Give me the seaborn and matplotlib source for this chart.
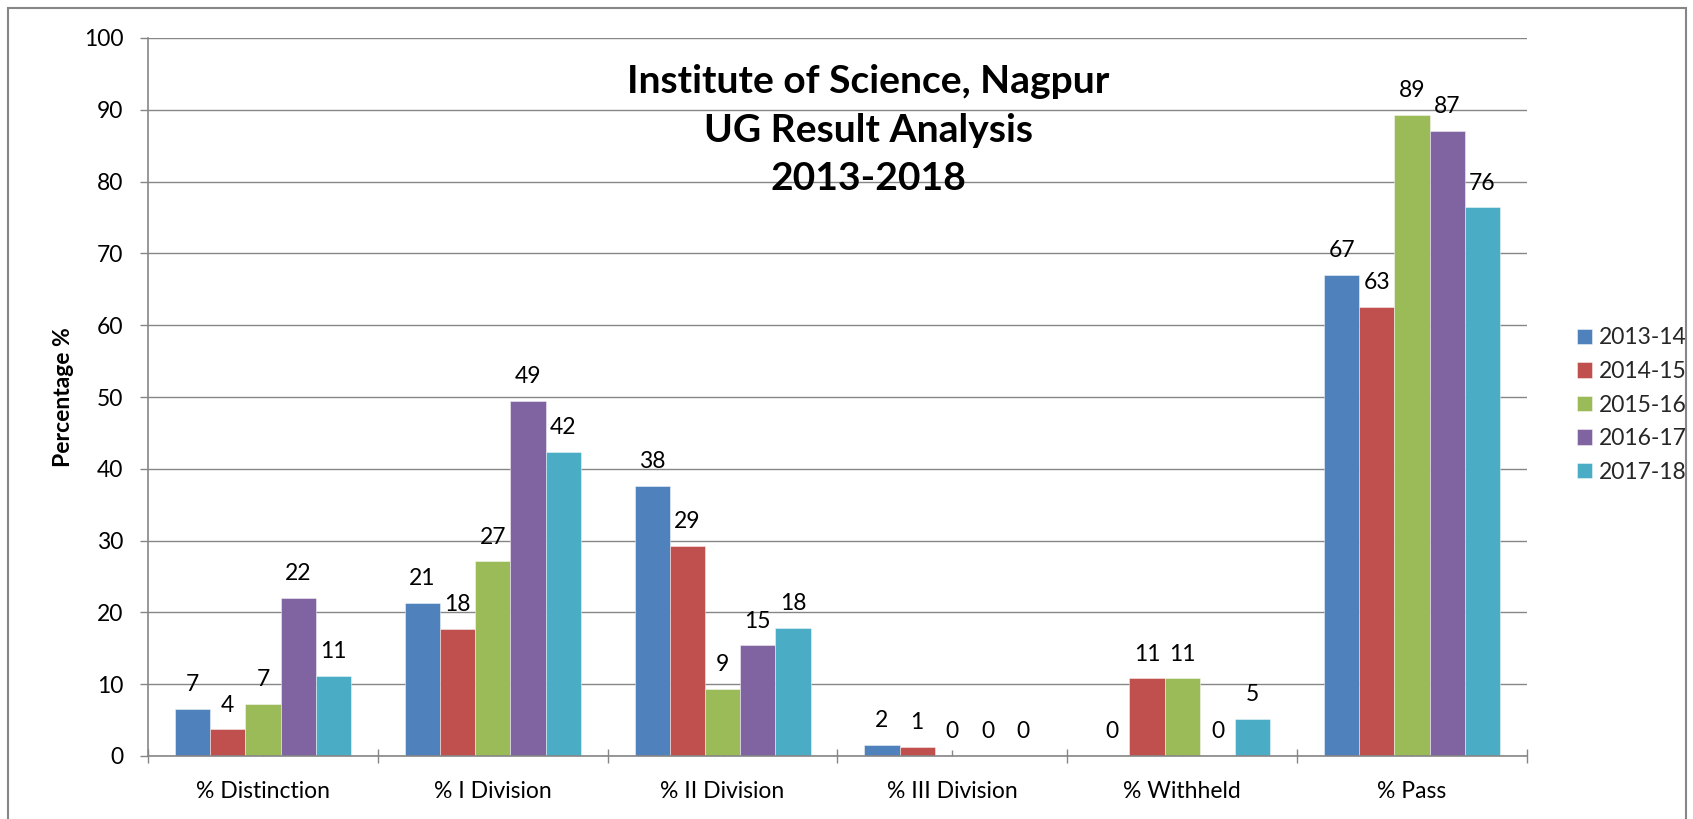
import numpy as np
import pandas as pd
import matplotlib
matplotlib.use("Agg")
import matplotlib.pyplot as plt
import seaborn as sns
from matplotlib.patches import Rectangle

categories = ["% Distinction", "% I Division", "% II Division", "% III Division", "% Withheld", "% Pass"]
years = ["2013-14", "2014-15", "2015-16", "2016-17", "2017-18"]
v_2013_14 = [6.6, 21.3, 37.6, 1.6, 0.0, 67.0]
v_2014_15 = [3.7, 17.7, 29.2, 1.3, 10.8, 62.6]
v_2015_16 = [7.2, 27.1, 9.3, 0.0, 10.8, 89.3]
v_2016_17 = [22.0, 49.4, 15.4, 0.0, 0.0, 87.0]
v_2017_18 = [11.2, 42.3, 17.8, 0.0, 5.1, 76.4]
series = [v_2013_14, v_2014_15, v_2015_16, v_2016_17, v_2017_18]
colors = ["#4F81BD", "#C0504D", "#9BBB59", "#8064A2", "#4BACC6"]
title_lines = ["Institute of Science, Nagpur", "UG Result Analysis", "2013-2018"]
y_label = "Percentage %"

rows = []
for y, vals in zip(years, series):
    for c, v in zip(categories, vals):
        rows.append({"Category": c, "Value": v, "Year": y})
df = pd.DataFrame(rows)

sns.set_theme(style="white")
plt.rcParams["font.family"] = ["Lato", "DejaVu Sans"]

W, H = 1693, 819
fig = plt.figure(figsize=(W / 100, H / 100), dpi=100)
renderer = fig.canvas.get_renderer()


def fit(text, target_px, weight="normal", base=20.0):
    t = fig.text(0, 0, text, fontsize=base, fontweight=weight)
    w = t.get_window_extent(renderer).width
    t.remove()
    return base * target_px / w


fs = (fit("100", 39) + fit("% Distinction", 138) + fit("2013-14", 88)) / 3
fs_title = fit(title_lines[0], 483, "bold")
fs_ylab = fit(y_label, 140, "bold")

ax = fig.add_axes([148 / W, 1 - 756 / H, (1527 - 148) / W, (756 - 38) / H])

gray = "#868686"
sns.barplot(data=df, x="Category", y="Value", hue="Year", order=categories,
            hue_order=years, palette=colors, saturation=1, width=0.766,
            edgecolor=(1, 1, 1, 0.45), linewidth=0.7, ax=ax)

ax.set_ylim(0, 100)
ax.set_xlim(-0.5, len(categories) - 0.5)
ax.set_yticks(np.arange(0, 101, 10))
ax.yaxis.grid(True, color=gray, lw=1.0)
ax.xaxis.grid(False)
ax.set_axisbelow(True)
for s in ["top", "right"]:
    ax.spines[s].set_visible(False)
for s in ["left", "bottom"]:
    ax.spines[s].set_color(gray)
    ax.spines[s].set_linewidth(1.2)

ax.tick_params(axis="y", direction="out", length=5.8, width=1, color=gray,
               pad=12, labelsize=fs, labelcolor="black", left=True)
ax.set_xticks(np.arange(-0.5, len(categories)), labels=[""] * (len(categories) + 1))
ax.set_xticks(np.arange(len(categories)), labels=categories, minor=True)
ax.tick_params(axis="x", which="major", direction="inout", length=10, width=1,
               color=gray, bottom=True)
ax.tick_params(axis="x", which="minor", direction="in", length=4.3, width=1,
               color=gray, pad=18, labelsize=fs, labelcolor="black", bottom=True)
ax.set_xlabel("")
ax.set_ylabel(y_label, fontsize=fs_ylab, fontweight="bold", color="black")
ax.yaxis.set_label_coords(-0.054, 0.5)

for cont in ax.containers:
    ax.bar_label(cont, fmt="%.0f", padding=10, fontsize=fs, color="black")

fs_px = fs * 100 / 72
ax.legend(loc="center left", bbox_to_anchor=(1577 / W, 1 - 405 / H),
          bbox_transform=fig.transFigure, frameon=False, fontsize=fs,
          handlelength=0.65, handleheight=0.65, handletextpad=0.3,
          labelspacing=max(0.1, 35 / fs_px - 0.98), borderpad=0, borderaxespad=0)

for line, yb in zip(title_lines, [93, 142, 190]):
    fig.text(868 / W, 1 - yb / H, line, ha="center", va="baseline",
             fontsize=fs_title, fontweight="bold", color="black")

fig.patches.append(Rectangle((8 / W, -0.05), (1686 - 8) / W, 1.05 - 8 / H,
                             transform=fig.transFigure, fill=False,
                             edgecolor=gray, lw=1.5))

fig.savefig("out.png", dpi=100)
